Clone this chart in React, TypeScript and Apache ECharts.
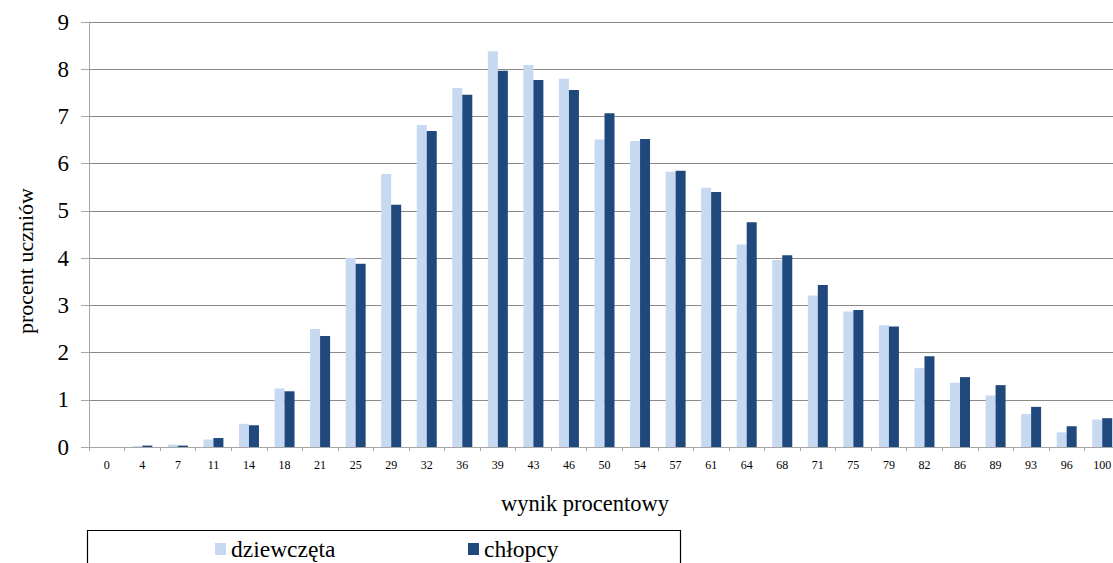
import React, { useEffect, useRef } from "react";
import * as echarts from "echarts";

// Score bins (percentage result)
const categories = [
  "0", "4", "7", "11", "14", "18", "21", "25", "29", "32", "36", "39", "43", "46", "50",
  "54", "57", "61", "64", "68", "71", "75", "79", "82", "86", "89", "93", "96", "100",
];

// Share of pupils (%) per bin
const girls = [
  0, 0.02, 0.05, 0.16, 0.49, 1.24, 2.5, 4.0, 5.78, 6.82, 7.6, 8.38, 8.09, 7.8, 6.51,
  6.48, 5.83, 5.49, 4.29, 3.96, 3.21, 2.87, 2.58, 1.67, 1.36, 1.09, 0.7, 0.31, 0.58,
];
const boys = [
  0, 0.03, 0.03, 0.19, 0.46, 1.18, 2.35, 3.88, 5.13, 6.69, 7.46, 7.97, 7.77, 7.56, 7.07,
  6.52, 5.85, 5.4, 4.76, 4.06, 3.43, 2.9, 2.55, 1.92, 1.48, 1.31, 0.85, 0.44, 0.61,
];

const seriesNames = ["dziewczęta", "chłopcy"];
const yTicks = { min: 0, max: 9, interval: 1 };

const SERIF = "Liberation Serif";
const AXIS_GRAY = "#a6a6a6";

export default function App() {
  const ref = useRef<HTMLDivElement>(null);

  useEffect(() => {
    if (!ref.current) return;
    const chart = echarts.init(ref.current, null, { renderer: "svg" });
    const legendText = { fontFamily: SERIF, fontSize: 23.5, color: "#000" };
    chart.setOption({
      animation: false,
      backgroundColor: "#fff",
      textStyle: { fontFamily: SERIF },
      grid: { left: 89, top: 22, width: 1031, height: 425, containLabel: false },
      xAxis: {
        type: "category",
        data: categories,
        axisLine: { lineStyle: { color: AXIS_GRAY, width: 1 } },
        axisTick: { show: true, interval: 0, length: 4, lineStyle: { color: AXIS_GRAY } },
        axisLabel: {
          interval: 0,
          margin: 12,
          fontFamily: "Liberation Sans Narrow",
          fontSize: 12,
          color: "#000",
        },
        splitLine: { show: false },
      },
      yAxis: {
        type: "value",
        min: yTicks.min,
        max: yTicks.max,
        interval: yTicks.interval,
        axisLine: { show: true, lineStyle: { color: AXIS_GRAY, width: 1 } },
        axisTick: { show: true, length: 8, lineStyle: { color: AXIS_GRAY } },
        axisLabel: { margin: 20, fontFamily: SERIF, fontSize: 23, color: "#000" },
        splitLine: { lineStyle: { color: "#8a8a8a", width: 1.2 } },
      },
      legend: [
        {
          data: [seriesNames[0]],
          left: 215,
          top: 537,
          icon: "rect",
          itemWidth: 11,
          itemHeight: 12,
          padding: 0,
          textStyle: legendText,
        },
        {
          data: [seriesNames[1]],
          left: 468,
          top: 537,
          icon: "rect",
          itemWidth: 11,
          itemHeight: 12,
          padding: 0,
          textStyle: legendText,
        },
      ],
      graphic: [
        {
          type: "text",
          x: 25,
          y: 261,
          rotation: Math.PI / 2,
          style: {
            text: "procent uczniów",
            fontFamily: SERIF,
            fontSize: 22,
            fill: "#000",
            align: "center",
            verticalAlign: "middle",
          },
        },
        {
          type: "text",
          x: 585,
          y: 503,
          style: {
            text: "wynik procentowy",
            fontFamily: SERIF,
            fontSize: 22.5,
            fill: "#000",
            align: "center",
            verticalAlign: "middle",
          },
        },
        {
          type: "rect",
          shape: { x: 87.5, y: 530.5, width: 593, height: 60 },
          style: { fill: "none", stroke: "#000", lineWidth: 1.2 },
          silent: true,
        },
      ],
      series: [
        {
          name: seriesNames[0],
          type: "bar",
          data: girls,
          barWidth: 10,
          barGap: "0%",
          itemStyle: { color: "#c6d9f1" },
        },
        {
          name: seriesNames[1],
          type: "bar",
          data: boys,
          barWidth: 10,
          barGap: "0%",
          itemStyle: { color: "#1f497d" },
        },
      ],
    });
    return () => chart.dispose();
  }, []);

  return (
    <div
      style={{
        position: "absolute",
        left: 0,
        top: 0,
        width: 1113,
        height: 563,
        overflow: "hidden",
        background: "#fff",
      }}
    >
      <div ref={ref} style={{ width: 1140, height: 563 }} />
    </div>
  );
}
